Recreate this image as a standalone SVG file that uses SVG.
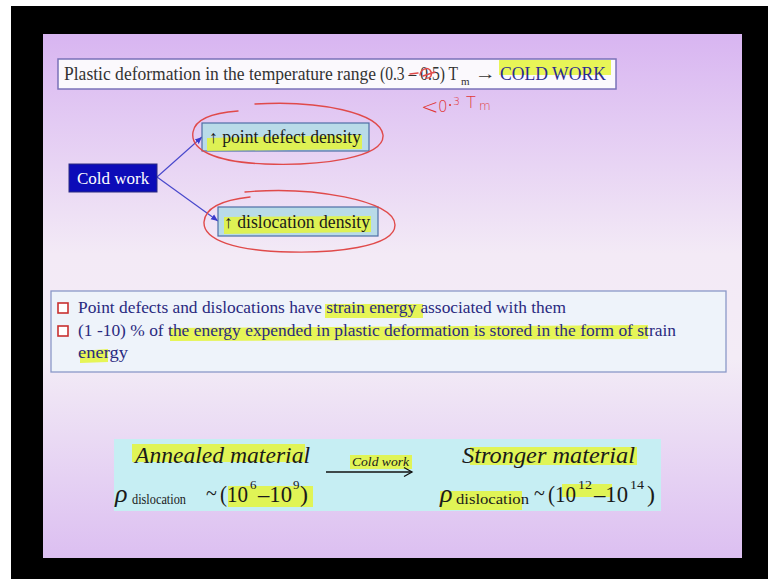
<svg xmlns="http://www.w3.org/2000/svg" width="768" height="579" viewBox="0 0 768 579">
<defs>
<linearGradient id="bg" x1="0" y1="0" x2="0" y2="1">
<stop offset="0" stop-color="#d8b5f1"/>
<stop offset="0.42" stop-color="#f3eaf6"/>
<stop offset="0.62" stop-color="#f3ecf6"/>
<stop offset="1" stop-color="#dcbff1"/>
</linearGradient>
<marker id="ah" markerWidth="8" markerHeight="8" refX="7" refY="4" orient="auto" markerUnits="userSpaceOnUse">
<path d="M0,1 L7,4 L0,7 Z" fill="#3a3acc"/>
</marker>
<marker id="oh" markerWidth="12" markerHeight="12" refX="10" refY="6" orient="auto" markerUnits="userSpaceOnUse">
<path d="M2,1.5 L10,6 L2,10.5" fill="none" stroke="#111" stroke-width="1.3"/>
</marker>
</defs>
<style>
.serif{font-family:"Liberation Serif","Times New Roman",serif}
.hl{fill:#e4f43a;opacity:0.85}
.red{fill:none;stroke:#e04a4a;stroke-width:1.4;stroke-linecap:round}
.hand{font-family:"DejaVu Sans",sans-serif;fill:#e03838}
.node{fill:#b9dbe8;stroke:#4e6ea6;stroke-width:1.2}
.body{font-family:"Liberation Serif","Times New Roman",serif;font-size:17px;fill:#2a2a80}
.it{font-family:"Liberation Serif","Times New Roman",serif;font-style:italic;fill:#1a1a1a}
.m{font-family:"Liberation Serif","Times New Roman",serif;fill:#1a1a1a}
.bul{fill:#fff;stroke:#c83030;stroke-width:1.6}
</style>
<rect x="0" y="0" width="768" height="579" fill="#000"/>
<rect x="0" y="0" width="768" height="6" fill="#fff"/>
<rect x="0" y="0" width="11" height="579" fill="#fff"/>
<rect x="43" y="34" width="699" height="524" fill="url(#bg)"/>

<g id="title">
<rect x="58" y="59" width="558" height="30" fill="#fbf9fd" stroke="#7a72b8" stroke-width="1.5"/>
<rect class="hl" x="499" y="60" width="112" height="15"/>
<text class="serif" x="64" y="80" font-size="18" fill="#333" textLength="312" lengthAdjust="spacingAndGlyphs">Plastic deformation in the temperature range</text>
<text class="serif" x="380" y="80" font-size="18" fill="#333" textLength="78" lengthAdjust="spacingAndGlyphs">(0.3 – 0.5) T</text>
<text class="serif" x="461" y="85" font-size="11" fill="#333">m</text>
<text class="serif" x="475" y="79" font-size="16" fill="#333" textLength="21" lengthAdjust="spacingAndGlyphs">→</text>
<text class="serif" x="500" y="80" font-size="18" fill="#2a2a90" textLength="106" lengthAdjust="spacingAndGlyphs">COLD WORK</text>
<path class="red" d="M410 74 L418 73 M420 75 C421 69 427 67 430 70 C433 74 431 79 426 78 M423 76 L435 72" stroke-width="1.9"/>
</g>

<g id="annotation">
<text class="hand" x="421" y="114" font-size="21" font-weight="300">&lt;</text>
<text class="hand" x="438" y="112" font-size="15" font-weight="300">0</text>
<circle cx="450" cy="105" r="1.1" fill="#e03838"/>
<text class="hand" x="453" y="105" font-size="11" font-weight="300">3</text>
<text class="hand" x="466" y="108" font-size="16" font-weight="300">T</text>
<text class="hand" x="479" y="110" font-size="12" font-weight="300">m</text>
</g>

<g id="connectors">
<line x1="157" y1="177" x2="202" y2="137" stroke="#4848cc" stroke-width="1.2" marker-end="url(#ah)"/>
<line x1="157" y1="177" x2="218" y2="221" stroke="#4848cc" stroke-width="1.2" marker-end="url(#ah)"/>
</g>

<g id="cold-work">
<rect x="69" y="164" width="88" height="28" fill="#0c0cb8" stroke="#2a2a80" stroke-width="1"/>
<text class="serif" x="113" y="184" font-size="17" fill="#fff" text-anchor="middle">Cold work</text>
</g>

<g id="point-defect">
<rect class="node" x="202" y="123" width="167" height="28"/>
<path class="hl" d="M207 138 L362 135 L362 149 L207 151 Z"/>
<text class="serif" x="209" y="143" font-size="18" fill="#1a1a1a" textLength="152" lengthAdjust="spacingAndGlyphs">↑ point defect density</text>
<path class="red" d="M255 104 C320 100 380 113 383 135 C385 158 320 166 265 164 C215 162 190 150 193 132 C195 120 210 113 238 111"/>
</g>

<g id="dislocation">
<rect class="node" x="218" y="207" width="160" height="29"/>
<path class="hl" d="M224 217 L371 216 L371 232 L224 234 Z"/>
<text class="serif" x="224" y="228" font-size="18" fill="#1a1a1a" textLength="146" lengthAdjust="spacingAndGlyphs">↑ dislocation density</text>
<path class="red" d="M245 192 C310 186 395 200 395 225 C395 248 330 253 290 252 C235 251 203 240 204 222 C205 208 222 200 250 197"/>
</g>

<g id="notes">
<rect x="51" y="291" width="675" height="81" fill="#eef3fa" stroke="#8a98c8" stroke-width="1.3"/>
<rect class="hl" x="325" y="304" width="98" height="14"/>
<path class="hl" d="M170 328 L648 325 L648 339 L170 341 Z"/>
<path class="hl" d="M80 351 L108 349 L108 362 L80 363 Z"/>
<rect class="bul" x="58" y="303" width="10" height="10"/>
<rect class="bul" x="58" y="326" width="10" height="10"/>
<text class="body" x="78" y="313" textLength="488" lengthAdjust="spacingAndGlyphs">Point defects and dislocations have strain energy associated with them</text>
<text class="body" x="78" y="336" textLength="598" lengthAdjust="spacingAndGlyphs">(1 -10) % of the energy expended in plastic deformation is stored in the form of strain</text>
<text class="body" x="78" y="358" textLength="50" lengthAdjust="spacingAndGlyphs">energy</text>
</g>

<g id="summary">
<rect x="114" y="439" width="547" height="72" fill="#c6eef3"/>
<rect class="hl" x="132" y="444" width="173" height="18"/>
<rect class="hl" x="228" y="486" width="85" height="21"/>
<rect class="hl" x="470" y="447" width="167" height="18"/>
<rect class="hl" x="440" y="491" width="82" height="19"/>
<rect class="hl" x="562" y="484" width="50" height="13"/>
<rect class="hl" x="350" y="455" width="62" height="14"/>
<text class="it" x="135" y="463" font-size="24" textLength="175" lengthAdjust="spacingAndGlyphs">Annealed material</text>
<text class="it" x="462" y="463" font-size="24" textLength="173" lengthAdjust="spacingAndGlyphs">Stronger material</text>
<line x1="326" y1="472" x2="412" y2="472" stroke="#111" stroke-width="1.3" marker-end="url(#oh)"/>
<text class="it" x="352" y="466" font-size="12" textLength="57" lengthAdjust="spacingAndGlyphs">Cold work</text>
<text class="it" x="115" y="502" font-size="26">ρ</text>
<text class="m" x="132" y="504" font-size="14" textLength="54" lengthAdjust="spacingAndGlyphs">dislocation</text>
<text class="m" x="206" y="500" font-size="20">~</text>
<text class="m" x="220" y="502" font-size="24" textLength="28" lengthAdjust="spacingAndGlyphs">(10</text>
<text class="m" x="250" y="489" font-size="13">6</text>
<text class="m" x="258" y="502" font-size="24" textLength="34" lengthAdjust="spacingAndGlyphs">–10</text>
<text class="m" x="293" y="489" font-size="13">9</text>
<text class="m" x="300" y="502" font-size="24">)</text>
<text class="it" x="440" y="502" font-size="26">ρ</text>
<text class="m" x="456" y="504" font-size="14" textLength="73" lengthAdjust="spacingAndGlyphs">dislocation</text>
<text class="m" x="534" y="500" font-size="20">~</text>
<text class="m" x="548" y="502" font-size="24" textLength="28" lengthAdjust="spacingAndGlyphs">(10</text>
<text class="m" x="578" y="489" font-size="13" textLength="14" lengthAdjust="spacingAndGlyphs">12</text>
<text class="m" x="594" y="502" font-size="24" textLength="34" lengthAdjust="spacingAndGlyphs">–10</text>
<text class="m" x="630" y="489" font-size="13" textLength="14" lengthAdjust="spacingAndGlyphs">14</text>
<text class="m" x="647" y="502" font-size="24">)</text>
</g>
</svg>
